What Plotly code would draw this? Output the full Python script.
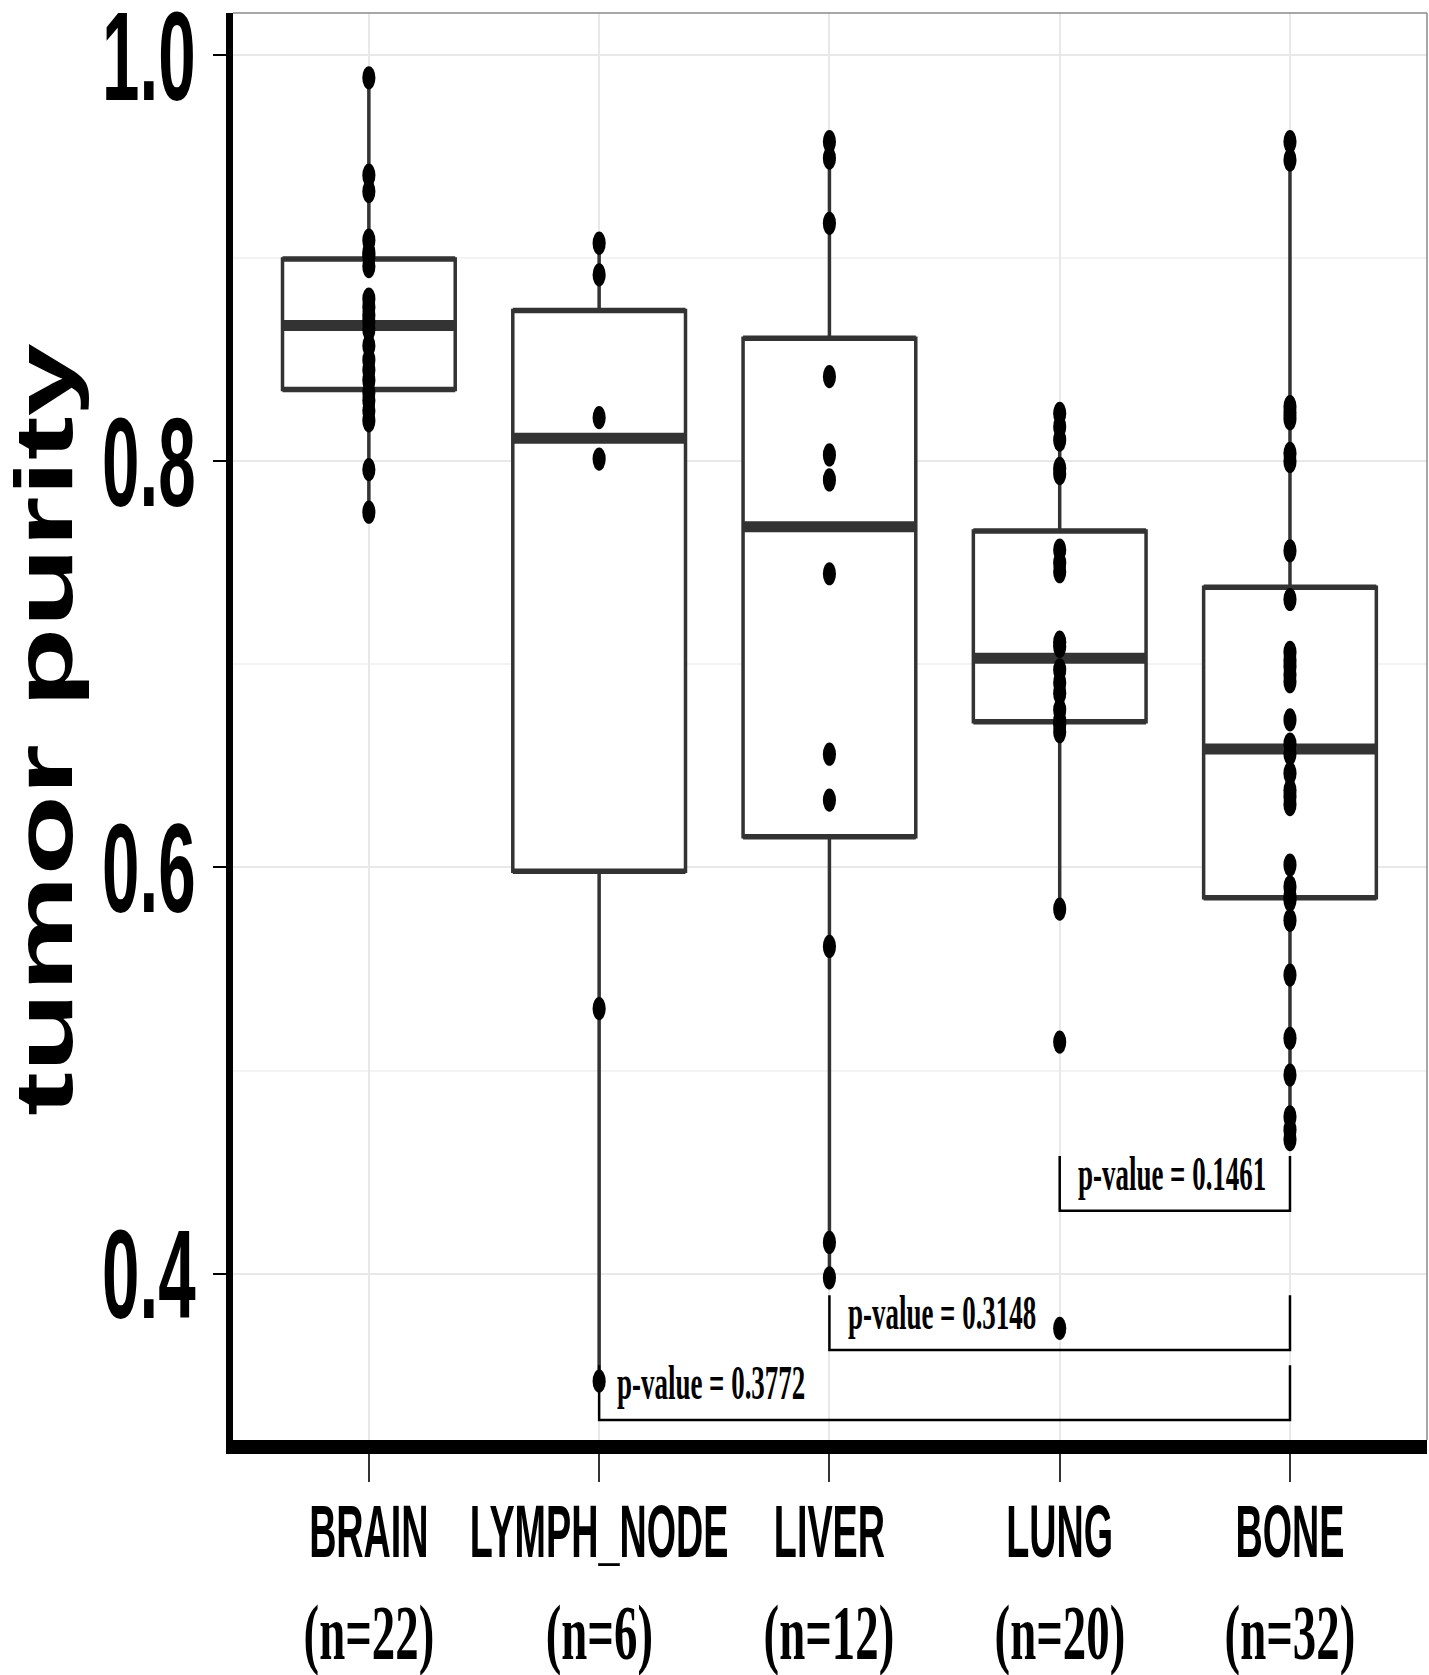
import numpy as np
import plotly.graph_objects as go

# ---------------- data ----------------
categories = ["BRAIN", "LYMPH_NODE", "LIVER", "LUNG", "BONE"]
counts = [22, 6, 12, 20, 32]

brain = [0.775, 0.796, 0.820, 0.825, 0.830, 0.834, 0.840, 0.845, 0.850, 0.857, 0.865,
         0.869, 0.872, 0.876, 0.880, 0.896, 0.901, 0.903, 0.909, 0.933, 0.941, 0.989]
lymph_node = [0.9075, 0.8919, 0.8216, 0.8012, 0.5305, 0.347]
liver = [0.9575, 0.9494, 0.9173, 0.8418, 0.8032, 0.7909, 0.7447, 0.6558, 0.6332,
         0.5611, 0.4153, 0.3979]
lung = [0.373, 0.514, 0.5795, 0.6669, 0.6705, 0.6722, 0.6776, 0.6858, 0.6910, 0.6973,
        0.7088, 0.7110, 0.7457, 0.7500, 0.7564, 0.7940, 0.7966, 0.8106, 0.8171, 0.8237]
bone = [0.466, 0.4707, 0.4772, 0.4978, 0.5159, 0.547, 0.574, 0.584, 0.5855, 0.5905,
        0.6012, 0.631, 0.635, 0.638, 0.6464, 0.6560, 0.6608, 0.6727, 0.6915, 0.695,
        0.699, 0.702, 0.706, 0.732, 0.756, 0.800, 0.804, 0.821, 0.824, 0.827, 0.9485, 0.9575]
series = [brain, lymph_node, liver, lung, bone]

y_tick_vals = [0.4, 0.6, 0.8, 1.0]
y_tick_text = ["0.4", "0.6", "0.8", "1.0"]
y_minor_vals = [0.5, 0.7, 0.9]

# comparisons: (group a, group b, bracket level, p-value text)
comp_a = ["LUNG", "LIVER", "LYMPH_NODE"]
comp_b = ["BONE", "BONE", "BONE"]
comp_level = [0.4309, 0.3623, 0.3278]
comp_p = ["0.1461", "0.3148", "0.3772"]

# ---------------- style ----------------
BOX_W = 0.75
BOX_COLOR = "#333333"
SANS = "Liberation Sans, Arial, Helvetica, sans-serif"
SERIF = "Liberation Serif, Times New Roman, serif"

fig = go.Figure()


def box_stats(vals):
    v = np.sort(np.asarray(vals, dtype=float))
    q1, med, q3 = np.percentile(v, [25, 50, 75])
    iqr = q3 - q1
    lo = v[v >= q1 - 1.5 * iqr].min()
    hi = v[v <= q3 + 1.5 * iqr].max()
    return q1, med, q3, lo, hi


med_x, med_y = [], []
edge_x, edge_y = [], []
for i, vals in enumerate(series):
    q1, med, q3, lo, hi = box_stats(vals)
    fig.add_trace(go.Box(
        x=[i], q1=[q1], median=[med], q3=[q3], lowerfence=[lo], upperfence=[hi],
        width=BOX_W, whiskerwidth=0, boxpoints=False,
        fillcolor="white", line=dict(color=BOX_COLOR, width=3.5),
        showlegend=False, hoverinfo="skip",
    ))
    med_x += [i - BOX_W / 2, i + BOX_W / 2, None]
    med_y += [med, med, None]
    for q in (q1, q3):
        edge_x += [i - BOX_W / 2, i + BOX_W / 2, None]
        edge_y += [q, q, None]

# slightly heavier hinge lines and thick median lines
fig.add_trace(go.Scatter(x=edge_x, y=edge_y, mode="lines",
                         line=dict(color=BOX_COLOR, width=5.5),
                         showlegend=False, hoverinfo="skip"))
fig.add_trace(go.Scatter(x=med_x, y=med_y, mode="lines",
                         line=dict(color=BOX_COLOR, width=11),
                         showlegend=False, hoverinfo="skip"))

# significance brackets
TICK_H = 0.027
for a, b, lvl, p in zip(comp_a, comp_b, comp_level, comp_p):
    xa, xb = categories.index(a), categories.index(b)
    fig.add_trace(go.Scatter(x=[xa, xa, xb, xb], y=[lvl + TICK_H, lvl, lvl, lvl + TICK_H],
                             mode="lines", line=dict(color="black", width=2.5),
                             showlegend=False, hoverinfo="skip"))
    fig.add_annotation(x=xa + 0.07, y=lvl + 0.0185, xref="x", yref="y",
                       text="p-value = " + p, showarrow=False,
                       xanchor="left", yanchor="middle",
                       font=dict(family=SERIF, size=49, color="black", weight="bold"))

# data points
for i, vals in enumerate(series):
    fig.add_trace(go.Scatter(x=[i] * len(vals), y=vals, mode="markers",
                             marker=dict(color="black", size=16),
                             showlegend=False))

# sample size labels under the category names
for i, n in enumerate(counts):
    fig.add_annotation(x=i, y=-0.135, xref="x", yref="paper",
                       text="(n=%d)" % n, showarrow=False,
                       xanchor="center", yanchor="middle",
                       font=dict(family=SERIF, size=78, color="black", weight="bold"))

# y-axis title
fig.add_annotation(x=-0.1587, y=0.498, xref="paper", yref="paper",
                   text="tumor purity", showarrow=False, textangle=-90,
                   xanchor="center", yanchor="middle",
                   font=dict(family=SANS, size=82, color="black", weight="bold"))

# panel border (top / right)
fig.add_shape(type="line", xref="paper", yref="paper", x0=0, x1=1, y0=1, y1=1,
              line=dict(color="#8a8a8a", width=1.5))
fig.add_shape(type="line", xref="paper", yref="paper", x0=1, x1=1, y0=0, y1=1,
              line=dict(color="#8a8a8a", width=1.5))

fig.update_layout(
    width=1429, height=1675,
    margin=dict(l=233, r=2, t=13, b=235, autoexpand=False),
    paper_bgcolor="white", plot_bgcolor="white",
    showlegend=False,
    xaxis=dict(
        range=[-0.59, 4.595], tickmode="array", tickvals=list(range(len(categories))),
        ticktext=categories, tickangle=0, showgrid=True, gridcolor="#E8E8E8", gridwidth=1.5,
        zeroline=False, showline=True, linecolor="black", linewidth=14,
        ticks="outside", ticklen=28, tickwidth=1.5, tickcolor="#333333",
        ticklabelstandoff=-14, ticklabeloverflow="allow",
        tickfont=dict(family=SANS, size=74, color="black", weight="bold"),
    ),
    yaxis=dict(
        range=[0.318, 1.0209], tickmode="array", tickvals=y_tick_vals, ticktext=y_tick_text,
        showgrid=True, gridcolor="#E8E8E8", gridwidth=1.5,
        minor=dict(tickvals=y_minor_vals, showgrid=True, gridcolor="#F3F3F3", gridwidth=1.5, ticks=""),
        zeroline=False, showline=True, linecolor="black", linewidth=7,
        ticks="outside", ticklen=13, tickwidth=2, tickcolor="black",
        ticklabelstandoff=-8, ticklabeloverflow="allow",
        tickfont=dict(family=SANS, size=127, color="black", weight="bold"),
    ),
)

# The reference image is a vertically stretched render: horizontal texts look
# condensed, the vertical title elongated and the dots elliptical.
post = """
var gd = document.getElementById('{plot_id}');
function sq(t, s, mode){
  if (t.getAttribute('data-sq')) return;
  var b = t.getBBox();
  var ox = mode === 'left' ? b.x : (mode === 'right' ? b.x + b.width : b.x + b.width / 2);
  var tr = t.getAttribute('transform') || '';
  t.setAttribute('transform', tr + ' translate(' + ox + ',0) scale(' + s + ',1) translate(' + (-ox) + ',0)');
  t.setAttribute('data-sq', '1');
}
function apply(){
  gd.querySelectorAll('.ytick text').forEach(function(t){ sq(t, 0.53, 'right'); });
  gd.querySelectorAll('.xtick text').forEach(function(t){ sq(t, 0.51, 'center'); });
  gd.querySelectorAll('.annotation-text').forEach(function(t){
    var s = t.textContent;
    if (s.indexOf('p-value') === 0) sq(t, 0.55, 'left');
    else if (s.indexOf('(n=') === 0) sq(t, 0.6, 'center');
    else if (s.indexOf('tumor') === 0) sq(t, 1.6, 'center');
  });
  gd.querySelectorAll('.scatterlayer .points path.point').forEach(function(p){
    if (p.getAttribute('data-sq')) return;
    p.setAttribute('transform', (p.getAttribute('transform') || '') + ' scale(0.82,1.45)');
    p.setAttribute('data-sq', '1');
  });
}
apply();
gd.on('plotly_afterplot', apply);
"""

fig.write_html("out.html", post_script=post)
